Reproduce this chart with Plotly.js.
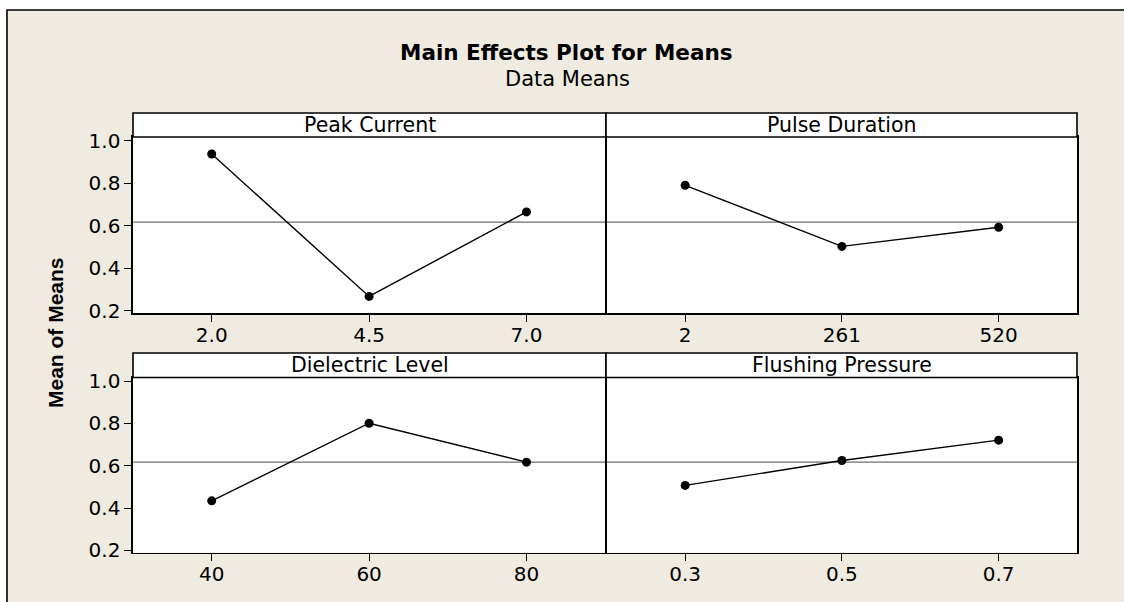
<!DOCTYPE html>
<html>
<head>
<meta charset="utf-8">
<script src="https://cdn.plot.ly/plotly-3.0.1.min.js"></script>
<style>html,body{margin:0;padding:0;background:#fff;}#chart{width:1124px;height:602px;}</style>
</head>
<body>
<div id="chart"></div>
<script>
// ---- data ----
const chartTitle = 'Main Effects Plot for Means';
const chartSubtitle = 'Data Means';
const yAxisTitle = 'Mean of Means';
const factorNames = ['Peak Current', 'Pulse Duration', 'Dielectric Level', 'Flushing Pressure'];
const peakLevels = ['2.0', '4.5', '7.0'];
const peakMeans = [0.937, 0.268, 0.665];
const pulseLevels = ['2', '261', '520'];
const pulseMeans = [0.790, 0.503, 0.593];
const dielectricLevels = ['40', '60', '80'];
const dielectricMeans = [0.434, 0.801, 0.617];
const flushingLevels = ['0.3', '0.5', '0.7'];
const flushingMeans = [0.507, 0.625, 0.721];
const grandMean = 0.617;
const yTickVals = [0.2, 0.4, 0.6, 0.8, 1.0];

// ---- layout helpers ----
const W = 1124, H = 602;
const px = v => v / W;
const py = v => 1 - v / H;
const cols = [[133, 605.2], [606.8, 1077]];
const stripCols = [[133, 606], [606, 1077]];
const rows = [{strip: [113, 137], plot: [137, 313]}, {strip: [353, 377.5], plot: [377.5, 552.5]}];
const yRange = [0.19, 1.017];
const tickFont = {family: 'DejaVu Sans, Verdana, sans-serif', size: 20, color: '#000'};
const stripFont = {family: 'DejaVu Sans, Verdana, sans-serif', size: 20.5, color: '#000'};

const levelSets = [peakLevels, pulseLevels, dielectricLevels, flushingLevels];
const meanSets = [peakMeans, pulseMeans, dielectricMeans, flushingMeans];

const traces = [];
const layout = {
  width: W, height: H,
  margin: {l: 0, r: 0, t: 0, b: 0},
  paper_bgcolor: '#ffffff',
  plot_bgcolor: 'rgba(0,0,0,0)',
  showlegend: false,
  font: tickFont,
  shapes: [],
  annotations: []
};

// outer frame (beige)
layout.shapes.push({type: 'rect', xref: 'paper', yref: 'paper', layer: 'below',
  x0: px(7), x1: px(1140), y0: py(10), y1: py(625),
  fillcolor: '#efebe1', line: {color: '#000', width: 1.6}});

for (let i = 0; i < 4; i++) {
  const r = Math.floor(i / 2), c = i % 2;
  const n = i === 0 ? '' : String(i + 1);
  const xa = 'xaxis' + n, ya = 'yaxis' + n;
  const xr = 'x' + n, yr = 'y' + n;
  const col = cols[c], scol = stripCols[c], row = rows[r];

  traces.push({
    type: 'scatter', mode: 'lines+markers',
    x: levelSets[i], y: meanSets[i],
    xaxis: xr, yaxis: yr,
    line: {color: '#000', width: 1.4},
    marker: {color: '#000', size: 9, symbol: 'circle'},
    hoverinfo: 'x+y'
  });

  layout[xa] = {
    domain: [px(col[0]), px(col[1])],
    anchor: yr,
    type: 'category',
    range: [-0.5, 2.5],
    showgrid: false, zeroline: false,
    showline: true, mirror: true, linecolor: '#000', linewidth: 1.6,
    ticks: 'outside', ticklen: 7, tickwidth: 1, tickcolor: '#000',
    ticklabelstandoff: -4,
    tickfont: tickFont,
    fixedrange: true
  };
  layout[ya] = {
    domain: [py(row.plot[1]), py(row.plot[0])],
    anchor: xr,
    range: yRange,
    showgrid: false, zeroline: false,
    showline: true, mirror: true, linecolor: '#000', linewidth: 1.6,
    tickmode: 'array', tickvals: yTickVals, ticktext: yTickVals.map(v => v.toFixed(1)),
    ticks: c === 0 ? 'outside' : '', ticklen: 7, tickwidth: 1, tickcolor: '#000',
    showticklabels: c === 0,
    tickfont: tickFont,
    fixedrange: true
  };

  // white panel background
  layout.shapes.push({type: 'rect', xref: 'paper', yref: 'paper', layer: 'below',
    x0: px(col[0]), x1: px(col[1]), y0: py(row.plot[1]), y1: py(row.plot[0]),
    fillcolor: '#ffffff', line: {width: 0}});
  // strip
  layout.shapes.push({type: 'rect', xref: 'paper', yref: 'paper', layer: 'above',
    x0: px(scol[0]), x1: px(scol[1]), y0: py(row.strip[1]), y1: py(row.strip[0]),
    fillcolor: '#ffffff', line: {color: '#000', width: 1.6}});
  // grand mean reference line
  layout.shapes.push({type: 'line', xref: xr + ' domain', yref: yr, layer: 'below',
    x0: 0, x1: 1, y0: grandMean, y1: grandMean,
    line: {color: '#6e6e6e', width: 1.2}});

  layout.annotations.push({xref: 'paper', yref: 'paper',
    x: px((scol[0] + scol[1]) / 2), y: py((row.strip[0] + row.strip[1]) / 2),
    xanchor: 'center', yanchor: 'middle', showarrow: false,
    text: factorNames[i], font: stripFont});
}

// titles
layout.annotations.push({xref: 'paper', yref: 'paper', x: px(566), y: py(52),
  xanchor: 'center', yanchor: 'middle', showarrow: false,
  text: '<b>' + chartTitle + '</b>',
  font: {family: 'DejaVu Sans, Verdana, sans-serif', size: 21.5, color: '#000'}});
layout.annotations.push({xref: 'paper', yref: 'paper', x: px(567), y: py(78.5),
  xanchor: 'center', yanchor: 'middle', showarrow: false,
  text: chartSubtitle,
  font: {family: 'DejaVu Sans, Verdana, sans-serif', size: 21, color: '#000'}});
layout.annotations.push({xref: 'paper', yref: 'paper', x: px(55), y: py(333),
  xanchor: 'center', yanchor: 'middle', showarrow: false, textangle: -90,
  text: '<b>' + yAxisTitle + '</b>',
  font: {family: 'Liberation Sans, Arial, sans-serif', size: 21, color: '#000'}});

Plotly.newPlot('chart', traces, layout, {displayModeBar: false, staticPlot: true});
</script>
</body>
</html>
